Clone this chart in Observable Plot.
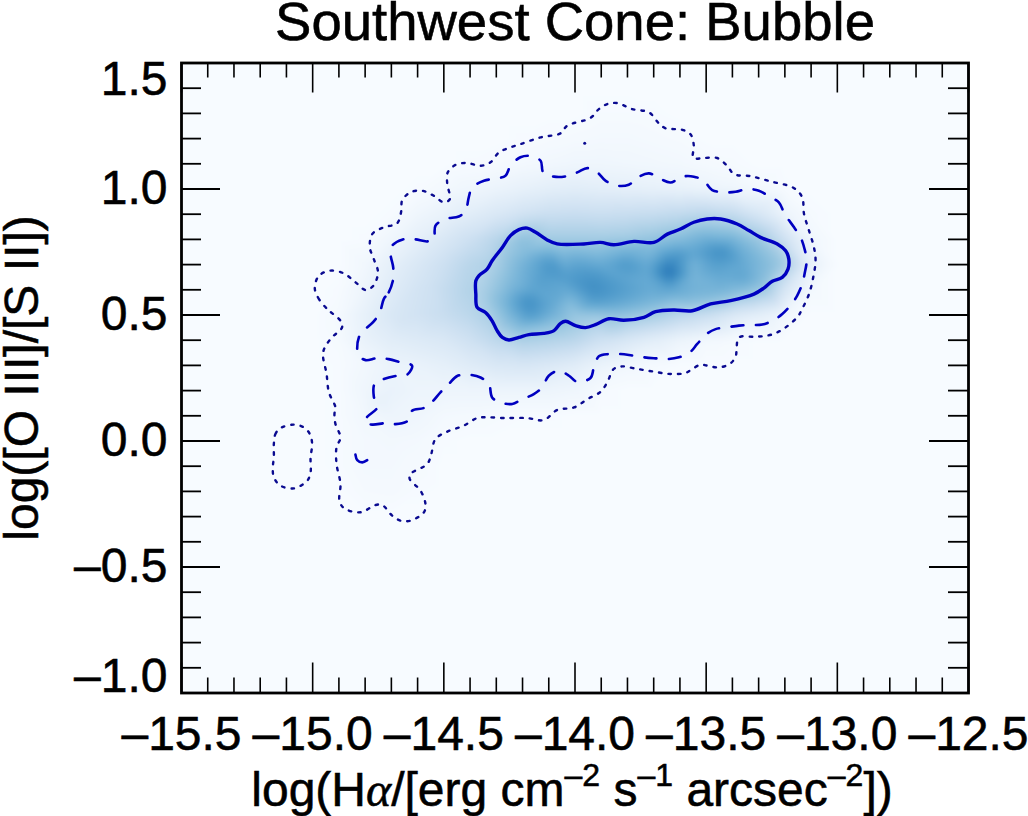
<!DOCTYPE html>
<html>
<head>
<meta charset="utf-8">
<script src="https://cdn.jsdelivr.net/npm/d3@7"></script>
<script src="https://cdn.jsdelivr.net/npm/@observablehq/plot@0.6"></script>
<style>
html,body{margin:0;padding:0;background:#fff}
svg{display:block}
svg text{stroke:#000;stroke-width:.55px}
</style>
</head>
<body>
<div id="chart"></div>
<script>
const titleText = "Southwest Cone: Bubble";
const yLabel = "log([O III]/[S II])";
const majorX = [-15.5,-15,-14.5,-14,-13.5,-13,-12.5];
const minorX = [-15.4,-15.3,-15.2,-15.1,-14.9,-14.8,-14.7,-14.6,-14.4,-14.3,-14.2,-14.1,-13.9,-13.8,-13.7,-13.6,-13.4,-13.3,-13.2,-13.1,-12.9,-12.8,-12.7,-12.6];
const majorY = [-1,-0.5,0,0.5,1,1.5];
const minorY = [-0.9,-0.8,-0.7,-0.6,-0.4,-0.3,-0.2,-0.1,0.1,0.2,0.3,0.4,0.6,0.7,0.8,0.9,1.1,1.2,1.3,1.4];

// Density samples (colour position 0..1 on the Blues ramp).
// Coarse samples: columns x = -15.2 ... -13.0, rows y = 1.4 ... -0.4, both in 0.1 steps. null = see fineSamples.
const gridX = [-15.2,-15.1,-15,-14.9,-14.8,-14.7,-14.6,-14.5,-14.4,-14.3,-14.2,-14.1,-14,-13.9,-13.8,-13.7,-13.6,-13.5,-13.4,-13.3,-13.2,-13.1,-13];
const gridY = [1.4,1.3,1.2,1.1,1,.9,.8,.7,.6,.5,.4,.3,.2,.1,0,-.1,-.2,-.3,-.4];
const _ = null;
const rowsDensity = [
 [0,0,0,0,0,0,0,0,0,0,0,0,0,0,0,0,0,0,0,0,0,0,0],
 [0,0,0,0,0,0,0,0,0,0,0,0,0,.008,.008,.005,0,0,0,0,0,0,0],
 [0,0,0,0,0,0,0,0,0,0,.005,.01,.015,.02,.02,.015,.01,0,0,0,0,0,0],
 [0,0,0,0,0,0,0,0,.005,.01,.02,.03,.04,.04,.035,.03,.025,.015,.01,0,0,0,0],
 [0,0,0,0,0,0,.005,.02,.04,.06,.08,.10,.11,.10,.09,.08,.07,.055,.04,.02,.005,0,0],
 [0,0,0,0,0,.005,.04,.07,.11,.15,.19,.22,.23,.22,.23,.24,.26,.28,.25,.16,.05,.01,0],
 [0,0,0,0,.005,.04,.09,.15,.21,.29,.42,.36,.36,.36,.37,.40,.44,.50,.48,.38,.20,.03,0],
 [0,0,0,0,.03,.09,.15,.21,.29,_,_,_,_,_,_,_,_,_,_,_,.36,.08,0],
 [0,0,0,.005,.05,.12,.18,.24,.31,_,_,_,_,_,_,_,_,_,_,_,.16,.02,0],
 [0,0,0,.015,.08,.15,.19,.23,.28,_,_,_,_,_,_,_,.28,.22,.14,.09,.03,0,0],
 [0,0,0,.01,.07,.11,.13,.15,.20,.27,.33,.31,.28,.20,.15,.10,.05,.02,.01,0,0,0,0],
 [0,0,0,.005,.03,.06,.07,.09,.12,.15,.16,.14,.11,.06,.03,.01,0,0,0,0,0,0,0],
 [0,0,0,.005,.04,.07,.05,.05,.05,.05,.05,.05,.04,.01,0,0,0,0,0,0,0,0,0],
 [0,0,0,.005,.03,.05,.04,.02,.015,.01,.005,.005,0,0,0,0,0,0,0,0,0,0,0],
 [0,0,0,.005,.02,.025,.02,.005,0,0,0,0,0,0,0,0,0,0,0,0,0,0,0],
 [0,0,0,.005,.02,.02,.012,0,0,0,0,0,0,0,0,0,0,0,0,0,0,0,0],
 [0,0,0,0,.012,.015,.005,0,0,0,0,0,0,0,0,0,0,0,0,0,0,0,0],
 [0,0,0,0,0,0,0,0,0,0,0,0,0,0,0,0,0,0,0,0,0,0,0],
 [0,0,0,0,0,0,0,0,0,0,0,0,0,0,0,0,0,0,0,0,0,0,0]
];
// Finer samples inside the solid contour and for the left haze: [x, y, colour position]
const fineSamples = [
 [-14.277,.75,.36],[-14.18,.75,.44],[-14.055,.75,.44],[-13.93,.75,.44],[-13.80,.75,.49],[-13.67,.75,.52],[-13.55,.75,.54],[-13.445,.75,.64],[-13.36,.75,.50],[-13.23,.75,.36],
 [-14.31,.70,.33],[-14.18,.70,.50],[-14.09,.70,.61],[-13.99,.70,.55],[-13.90,.70,.52],[-13.81,.70,.60],[-13.72,.70,.52],[-13.64,.70,.68],[-13.55,.70,.47],[-13.46,.70,.57],[-13.36,.70,.52],[-13.23,.70,.40],
 [-14.36,.65,.30],[-14.245,.65,.44],[-14.12,.65,.57],[-14.03,.65,.58],[-13.93,.65,.61],[-13.81,.65,.54],[-13.72,.65,.52],[-13.64,.67,.75],[-13.55,.65,.47],[-13.445,.65,.52],[-13.36,.65,.54],[-13.27,.65,.42],
 [-14.36,.60,.32],[-14.245,.60,.47],[-14.16,.60,.54],[-14.03,.60,.52],[-13.93,.60,.64],[-13.81,.60,.57],[-13.72,.60,.52],[-13.64,.60,.54],[-13.55,.60,.49],[-13.445,.60,.48],[-13.36,.60,.44],[-13.27,.60,.36],
 [-14.36,.55,.32],[-14.27,.55,.47],[-14.18,.55,.64],[-14.08,.55,.52],[-14.02,.55,.44],[-13.93,.55,.57],[-13.81,.55,.52],[-13.70,.55,.46],[-13.55,.55,.42],[-13.445,.55,.37],[-13.32,.55,.26],
 [-14.32,.50,.34],[-14.245,.50,.47],[-14.17,.50,.59],[-14.08,.50,.48],[-14.00,.50,.38],[-13.93,.50,.38],[-13.81,.50,.40],[-13.70,.50,.35],
 [-14.28,.45,.36],[-14.21,.45,.44],[-14.11,.45,.40],[-13.99,.45,.34],[-13.85,.45,.32],
 [-14.67,.48,.17],[-14.55,.62,.20],[-14.50,.75,.18],[-14.74,.16,.08]
];
const frameCorners = [[-15.5,1.5,0],[-12.5,1.5,0],[-12.5,-1,0],[-15.5,-1,0]];
const densitySamples = [
  ...gridY.flatMap((y, r) => gridX.map((x, c) => [x, y, rowsDensity[r][c]])).filter(d => d[2] !== null),
  ...fineSamples,
  ...frameCorners
];

const solidContour = [[-14.378,.636],[-14.378,.583],[-14.373,.530],[-14.341,.510],[-14.316,.477],[-14.297,.438],[-14.277,.411],[-14.252,.401],[-14.214,.411],[-14.176,.422],[-14.119,.427],[-14.080,.438],[-14.055,.467],[-14.036,.475],[-13.998,.458],[-13.960,.450],[-13.922,.462],[-13.871,.485],[-13.814,.479],[-13.737,.491],[-13.693,.513],[-13.623,.520],[-13.553,.517],[-13.483,.544],[-13.407,.557],[-13.318,.583],[-13.280,.607],[-13.248,.634],[-13.210,.649],[-13.188,.682],[-13.185,.722],[-13.197,.755],[-13.229,.782],[-13.293,.808],[-13.337,.835],[-13.382,.861],[-13.445,.881],[-13.496,.881],[-13.547,.868],[-13.598,.841],[-13.648,.821],[-13.699,.788],[-13.775,.792],[-13.852,.779],[-13.903,.788],[-13.966,.782],[-14.068,.782],[-14.106,.798],[-14.150,.828],[-14.182,.845],[-14.214,.839],[-14.246,.815],[-14.277,.768],[-14.316,.715],[-14.335,.682],[-14.366,.656]];

const dashedContour = [[-14.729,.563],[-14.710,.590],[-14.693,.643],[-14.693,.689],[-14.703,.742],[-14.697,.775],[-14.659,.799],[-14.614,.801],[-14.563,.792],[-14.538,.801],[-14.532,.854],[-14.494,.881],[-14.443,.891],[-14.417,.914],[-14.405,.967],[-14.392,1.006],[-14.347,1.033],[-14.309,1.040],[-14.265,1.053],[-14.246,1.092],[-14.208,1.126],[-14.169,1.131],[-14.131,1.112],[-14.121,1.066],[-14.080,1.049],[-14.036,1.050],[-13.991,1.066],[-13.953,1.083],[-13.915,1.066],[-13.884,1.033],[-13.839,1.013],[-13.795,1.017],[-13.756,1.049],[-13.718,1.062],[-13.674,1.040],[-13.636,1.026],[-13.591,1.049],[-13.547,1.049],[-13.509,1.033],[-13.477,.996],[-13.432,.987],[-13.388,.989],[-13.343,1.000],[-13.299,.993],[-13.261,.971],[-13.223,.947],[-13.201,.901],[-13.165,.848],[-13.140,.808],[-13.125,.762],[-13.117,.716],[-13.125,.663],[-13.134,.623],[-13.153,.577],[-13.174,.544],[-13.210,.504],[-13.242,.480],[-13.286,.462],[-13.331,.460],[-13.375,.458],[-13.420,.451],[-13.464,.444],[-13.498,.425],[-13.534,.385],[-13.562,.352],[-13.604,.332],[-13.648,.325],[-13.693,.328],[-13.737,.332],[-13.782,.339],[-13.826,.345],[-13.871,.345],[-13.909,.336],[-13.928,.292],[-13.941,.250],[-13.992,.235],[-14.023,.259],[-14.061,.279],[-14.100,.259],[-14.125,.213],[-14.157,.186],[-14.201,.166],[-14.239,.147],[-14.284,.153],[-14.316,.173],[-14.328,.226],[-14.360,.252],[-14.405,.263],[-14.449,.258],[-14.481,.226],[-14.513,.193],[-14.544,.156],[-14.576,.131],[-14.621,.120],[-14.633,.083],[-14.684,.067],[-14.722,.071],[-14.773,.065],[-14.802,.074],[-14.792,.096],[-14.754,.133],[-14.767,.177],[-14.764,.226],[-14.729,.246],[-14.684,.258],[-14.640,.263],[-14.621,.299],[-14.665,.312],[-14.710,.325],[-14.754,.329],[-14.798,.321],[-14.824,.338],[-14.830,.358],[-14.824,.411],[-14.805,.438],[-14.767,.475],[-14.744,.510]];

const dashedHook = [[-14.837,-.054],[-14.830,-.076],[-14.811,-.085],[-14.792,-.076]];

const dottedContour = [[-14.945,.524],[-14.976,.563],[-14.992,.607],[-14.976,.656],[-14.932,.676],[-14.881,.665],[-14.837,.630],[-14.798,.599],[-14.769,.616],[-14.751,.669],[-14.767,.722],[-14.782,.768],[-14.773,.821],[-14.729,.848],[-14.678,.864],[-14.662,.914],[-14.659,.954],[-14.627,.987],[-14.582,.993],[-14.538,.973],[-14.500,.947],[-14.477,.960],[-14.487,1.020],[-14.485,1.066],[-14.455,1.096],[-14.411,1.103],[-14.360,1.092],[-14.322,1.106],[-14.290,1.145],[-14.252,1.163],[-14.208,1.178],[-14.131,1.205],[-14.055,1.221],[-14.030,1.251],[-13.941,1.282],[-13.909,1.317],[-13.877,1.337],[-13.839,1.341],[-13.782,1.317],[-13.718,1.304],[-13.680,1.260],[-13.655,1.241],[-13.591,1.235],[-13.559,1.216],[-13.547,1.172],[-13.549,1.123],[-13.509,1.123],[-13.458,1.123],[-13.420,1.092],[-13.394,1.059],[-13.331,1.051],[-13.254,1.030],[-13.166,1.004],[-13.134,.967],[-13.127,.901],[-13.108,.835],[-13.089,.768],[-13.083,.716],[-13.092,.649],[-13.108,.583],[-13.134,.524],[-13.153,.491],[-13.216,.438],[-13.267,.418],[-13.318,.414],[-13.375,.411],[-13.384,.372],[-13.387,.338],[-13.407,.308],[-13.451,.292],[-13.496,.299],[-13.521,.303],[-13.553,.286],[-13.579,.270],[-13.636,.266],[-13.699,.275],[-13.763,.286],[-13.820,.296],[-13.852,.286],[-13.877,.233],[-13.903,.195],[-13.953,.166],[-14.004,.133],[-14.068,.123],[-14.119,.083],[-14.182,.091],[-14.271,.091],[-14.335,.094],[-14.373,.091],[-14.424,.061],[-14.487,.037],[-14.532,.008],[-14.548,-.052],[-14.563,-.091],[-14.627,-.131],[-14.630,-.151],[-14.589,-.197],[-14.570,-.250],[-14.576,-.283],[-14.627,-.316],[-14.665,-.316],[-14.697,-.296],[-14.735,-.254],[-14.760,-.254],[-14.818,-.283],[-14.881,-.266],[-14.898,-.237],[-14.894,-.171],[-14.909,-.091],[-14.909,-.025],[-14.894,.014],[-14.913,.067],[-14.917,.107],[-14.913,.133],[-14.938,.193],[-14.947,.266],[-14.960,.352],[-14.932,.405],[-14.888,.451],[-14.894,.477],[-14.938,.517]];

const dottedIsland = [[-15.148,-.012],[-15.142,.028],[-15.123,.051],[-15.072,.065],[-15.034,.054],[-15.011,.028],[-15.002,-.012],[-15.008,-.065],[-15.008,-.124],[-15.021,-.158],[-15.072,-.188],[-15.123,-.177],[-15.148,-.144],[-15.152,-.105],[-15.148,-.065]];

const dottedSpeck = [[-13.963,1.182]];

const W = 1028, H = 816;
const mL = 181, mR = 60, mT = 62.5, mB = 123.5;
const plotH = H - mT - mB, plotW = W - mL - mR;
const minus = d => d.toFixed(1).replace("-", "\u2013");
const blue = "#0000c0", navy = "#0a0a90";
const contour = (pts, o) => Plot.line(pts, {x: d => d[0], y: d => d[1], ...o});

const chart = Plot.plot({
  width: W, height: H,
  marginLeft: mL, marginRight: mR, marginTop: mT, marginBottom: mB,
  style: {fontFamily: "'Liberation Sans', Arial, sans-serif", background: "#fff", color: "#000", overflow: "visible"},
  x: {domain: [-15.5, -12.5]},
  y: {domain: [-1, 1.5]},
  color: {type: "linear", scheme: "Blues", domain: [0, 1]},
  marks: [
    Plot.frame({fill: "#f7fbff", stroke: null}),
    Plot.raster(densitySamples, {x: d => d[0], y: d => d[1], fill: d => d[2], interpolate: "barycentric", blur: 4, pixelSize: 1}),
    contour(dottedContour, {stroke: navy, strokeWidth: 2.4, strokeDasharray: "2.5,7", curve: "catmull-rom-closed"}),
    contour(dottedIsland, {stroke: navy, strokeWidth: 2.4, strokeDasharray: "2.5,7", curve: "catmull-rom-closed"}),
    Plot.dot(dottedSpeck, {x: d => d[0], y: d => d[1], r: 1.5, fill: navy}),
    contour(dashedContour, {stroke: blue, strokeWidth: 2.6, strokeDasharray: "12,12.5", curve: "catmull-rom-closed"}),
    contour(dashedHook, {stroke: blue, strokeWidth: 2.6, curve: "catmull-rom"}),
    contour(solidContour, {stroke: blue, strokeWidth: 3.4, curve: "catmull-rom-closed"}),
    Plot.tickX(minorX, {x: d => d, insetTop: plotH - 15, stroke: "#000", strokeWidth: 1.6}),
    Plot.tickX(minorX, {x: d => d, insetBottom: plotH - 15, stroke: "#000", strokeWidth: 1.6}),
    Plot.tickX(majorX, {x: d => d, insetTop: plotH - 30, stroke: "#000", strokeWidth: 1.6}),
    Plot.tickX(majorX, {x: d => d, insetBottom: plotH - 30, stroke: "#000", strokeWidth: 1.6}),
    Plot.tickY(minorY, {y: d => d, insetRight: plotW - 20, stroke: "#000", strokeWidth: 1.8}),
    Plot.tickY(minorY, {y: d => d, insetLeft: plotW - 20, stroke: "#000", strokeWidth: 1.8}),
    Plot.tickY(majorY, {y: d => d, insetRight: plotW - 39, stroke: "#000", strokeWidth: 1.8}),
    Plot.tickY(majorY, {y: d => d, insetLeft: plotW - 39, stroke: "#000", strokeWidth: 1.8}),
    Plot.frame({stroke: "#000", strokeWidth: 2.8}),
    Plot.axisX({ticks: majorX, tickSize: 0, tickPadding: 23, fontSize: 48, label: null, tickFormat: minus}),
    Plot.axisY({ticks: [-0.5, 0, 0.5, 1], tickSize: 0, tickPadding: 14, fontSize: 48, label: null, tickFormat: minus}),
    Plot.axisY({ticks: [1.5], tickSize: 0, tickPadding: 14, fontSize: 48, label: null, tickFormat: minus, dy: 17}),
    Plot.axisY({ticks: [-1], tickSize: 0, tickPadding: 14, fontSize: 48, label: null, tickFormat: minus, dy: -16}),
    Plot.text([titleText], {frameAnchor: "top", dy: -40, lineAnchor: "middle", fontSize: 54.5, fill: "#000"}),
    Plot.text([yLabel], {frameAnchor: "left", dx: -159, textAnchor: "middle", rotate: -90, fontSize: 48, fill: "#000"})
  ]
});

// Bottom axis title with superscripts, as real text
const xTitle = d3.select(chart).append("text")
  .attr("x", 572).attr("y", 806)
  .attr("text-anchor", "middle")
  .attr("font-size", 48).attr("fill", "#000");
const parts = [
  ["log(H"], ["\u03b1", "alpha"], ["/[erg cm"], ["\u20132", "sup"], [" s"], ["\u20131", "sup"], [" arcsec"], ["\u20132", "sup"], ["])"]
];
let prevSup = false;
for (const [t, kind] of parts) {
  const s = xTitle.append("tspan").text(t);
  const isSup = kind === "sup";
  if (isSup) s.attr("font-size", 32).attr("dy", -20);
  else if (prevSup) s.attr("dy", 20);
  if (kind === "alpha") s.attr("font-family", "'Liberation Serif', serif").attr("font-style", "italic");
  prevSup = isSup;
}
document.getElementById("chart").append(chart);
</script>
</body>
</html>
